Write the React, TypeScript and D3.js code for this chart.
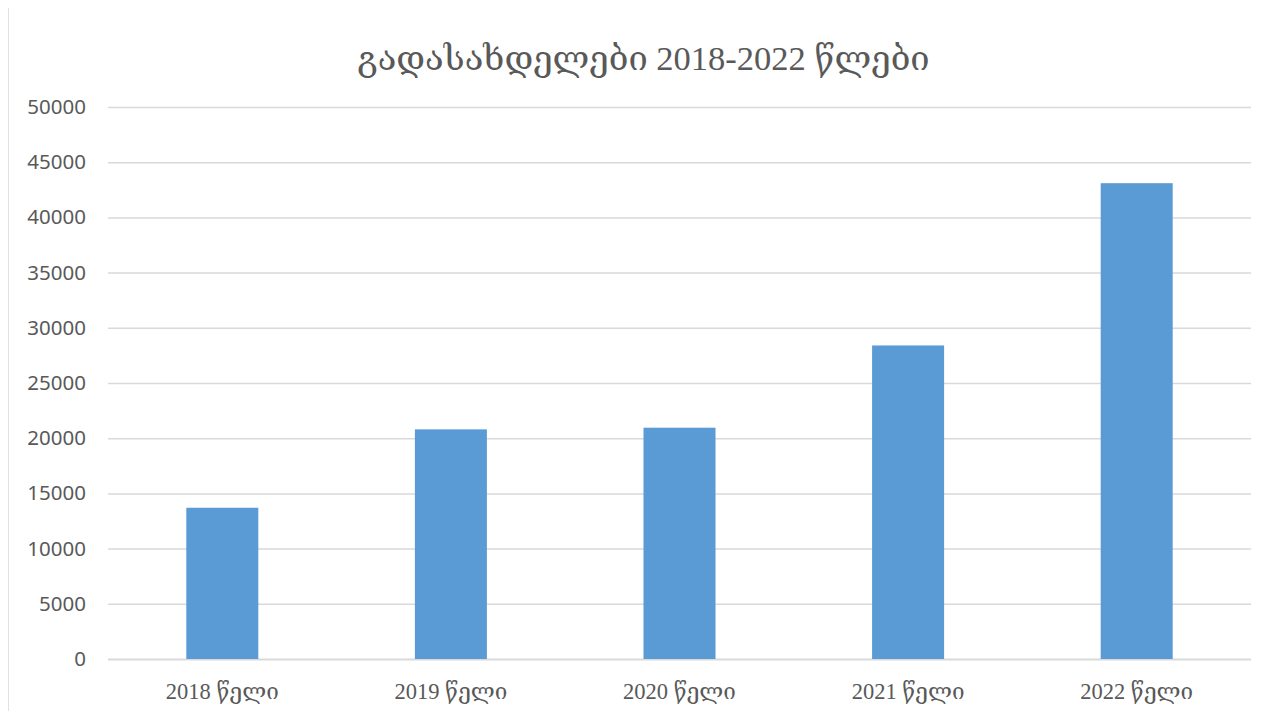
import React, { useEffect, useRef } from "react";
import { axisLeft, scaleBand, scaleLinear, select } from "d3";

const title = "გადასახდელები 2018-2022 წლები";
const years = ["2018 წელი", "2019 წელი", "2020 წელი", "2021 წელი", "2022 წელი"];
const payments = [13700, 20800, 20950, 28400, 43100];
const yTicks = [0, 5000, 10000, 15000, 20000, 25000, 30000, 35000, 40000, 45000, 50000];

const App = () => {
  const ref = useRef<SVGSVGElement>(null);

  useEffect(() => {
    const width = 1281;
    const height = 719;
    const margin = { top: 107, left: 108 };
    const plotRight = 1251;
    const plotBottom = 659;

    const svg = select(ref.current);
    svg.selectAll("*").remove();
    svg.attr("width", width).attr("height", height);

    const x = scaleBand<string>()
      .domain(years)
      .range([margin.left, plotRight])
      .paddingInner(0.685)
      .paddingOuter(0.3425);

    const y = scaleLinear().domain([0, 50000]).range([plotBottom, margin.top]);

    // grid + y labels
    const yAxis = svg
      .append("g")
      .attr("transform", `translate(${margin.left},0)`)
      .call(
        axisLeft(y)
          .tickValues(yTicks)
          .tickSize(-(plotRight - margin.left))
          .tickPadding(22)
          .tickFormat((d) => String(d))
      );
    yAxis.select(".domain").remove();
    yAxis
      .selectAll(".tick line")
      .attr("stroke", "#d9d9d9")
      .attr("stroke-width", (d) => ((d as number) === 0 ? 2 : 1.5));
    yAxis
      .selectAll(".tick text")
      .attr("fill", "#595959")
      .attr("font-family", "'Noto Sans', sans-serif")
      .attr("font-size", 20.5);

    // bars
    svg
      .append("g")
      .selectAll("rect")
      .data(payments)
      .join("rect")
      .attr("x", (_, i) => x(years[i]) as number)
      .attr("y", (d) => y(d))
      .attr("width", x.bandwidth())
      .attr("height", (d) => plotBottom - y(d))
      .attr("fill", "#5b9bd5");

    // x labels
    svg
      .append("g")
      .selectAll("text")
      .data(years)
      .join("text")
      .attr("x", (d) => (x(d) as number) + x.bandwidth() / 2)
      .attr("y", 699)
      .attr("text-anchor", "middle")
      .attr("fill", "#595959")
      .attr("font-family", "'Liberation Serif', 'DejaVu Serif', serif")
      .attr("font-size", 22.5)
      .text((d) => d);

    // title
    svg
      .append("text")
      .attr("x", width / 2 + 3)
      .attr("y", 70)
      .attr("text-anchor", "middle")
      .attr("fill", "#595959")
      .attr("font-family", "'Liberation Serif', 'DejaVu Serif', serif")
      .attr("font-size", 34.5)
      .text(title);

    // chart frame (left, top, right edges; bottom runs off the page)
    svg
      .append("path")
      .attr("d", "M7.5,719V5.5H1279.5V719")
      .attr("fill", "none")
      .attr("stroke", "#c4c4c4")
      .attr("stroke-width", 2);
  }, []);

  return (
    <div style={{ margin: -8 }}>
      <svg ref={ref} style={{ display: "block" }}></svg>
    </div>
  );
};

export default App;
